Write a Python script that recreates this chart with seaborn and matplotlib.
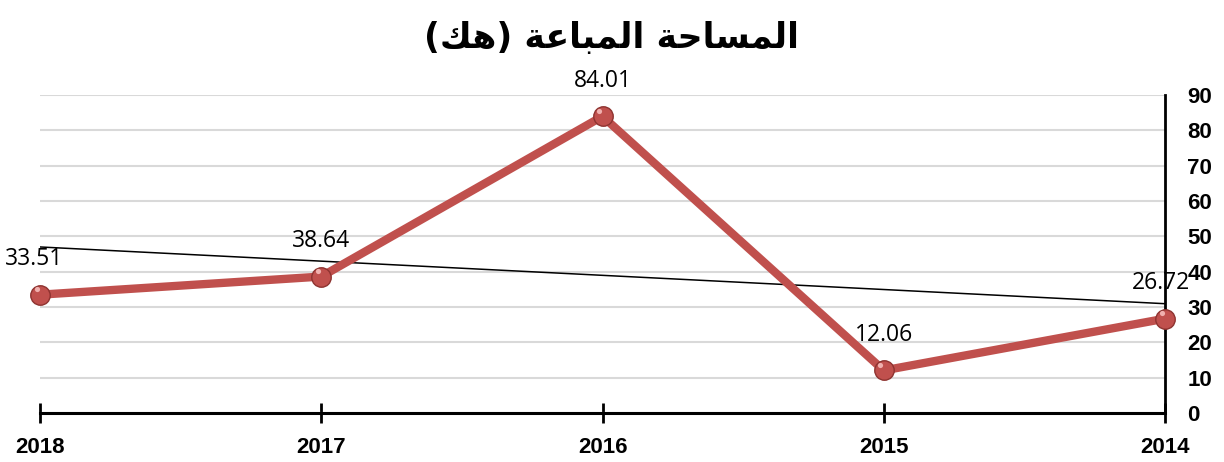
import numpy as np
import pandas as pd
import matplotlib.pyplot as plt
import seaborn as sns

years = [2014, 2015, 2016, 2017, 2018]
area = [26.72, 12.06, 84.01, 38.64, 33.51]
yticks = [0, 10, 20, 30, 40, 50, 60, 70, 80, 90]
# title "المساحة المباعة (هك)" written with arabic presentation forms in visual order
# (matplotlib does no arabic shaping / bidi by itself)
title = "(\uFEDA\uFEEB) \uFE94\uFECB\uFE8E\uFE92\uFEE4\uFEDF\uFE8D \uFE94\uFEA3\uFE8E\uFEB4\uFEE4\uFEDF\uFE8D"

df = pd.DataFrame({"year": years, "area": area})

sns.set_style("white")
plt.rcParams['font.family'] = ['Liberation Sans', 'DejaVu Sans']
plt.rcParams['text.color'] = 'black'
plt.rcParams['xtick.color'] = 'black'
plt.rcParams['ytick.color'] = 'black'

fig = plt.figure(figsize=(12.24, 4.62), dpi=100)
ax = fig.add_axes([0.0327, 0.106, 0.9191, 0.688])

# trend line (linear fit)
k, b = np.polyfit(df.year, df.area, 1)
ax.plot(df.year, k * df.year + b, color="black", lw=1.1, zorder=2)

sns.lineplot(data=df, x="year", y="area", ax=ax, color="#c0504d", lw=6,
             marker="o", markersize=14, markerfacecolor="#c0504d",
             markeredgecolor="#8e3330", markeredgewidth=1, zorder=3, clip_on=False)
# small highlight on the markers
ax.scatter(df.year + 0.012, df.area + 1.6, s=14, color="#f0b0ae", zorder=4, lw=0, clip_on=False)

offx = {2014: -3, 2018: -4}
for x, y in zip(df.year, df.area):
    ax.annotate(f"{y:.2f}", (x, y), xytext=(offx.get(x, 0), 17),
                textcoords="offset points", ha="center", va="bottom",
                fontsize=16.5, family=["Open Sans", "DejaVu Sans"], zorder=5,
                annotation_clip=False)

ax.set_xlim(2018, 2014)
ax.set_ylim(0, 90)
ax.set_xticks(years)
ax.set_xticklabels([str(y) for y in years], fontweight="bold", fontsize=16)
ax.set_yticks(yticks)
ax.set_yticklabels([str(v) for v in yticks], fontweight="bold", fontsize=16)
ax.yaxis.tick_right()
ax.set_xlabel("")
ax.set_ylabel("")
ax.grid(axis="y", color="#d9d9d9", lw=1.5)
ax.set_axisbelow(True)

for s in ["top", "left"]:
    ax.spines[s].set_visible(False)
ax.spines["right"].set_color("black")
ax.spines["right"].set_linewidth(2)
ax.spines["bottom"].set_color("black")
ax.spines["bottom"].set_linewidth(2.2)
ax.tick_params(axis="x", bottom=True, direction="inout", length=14, width=2, pad=10, colors="black")
ax.tick_params(axis="y", right=False, left=False, length=0, pad=16)

fig.text(0.5, 0.918, title, ha="center", va="center", fontsize=25,
         fontweight="bold", family=["DejaVu Sans"])

fig.savefig("out.png", dpi=100)
